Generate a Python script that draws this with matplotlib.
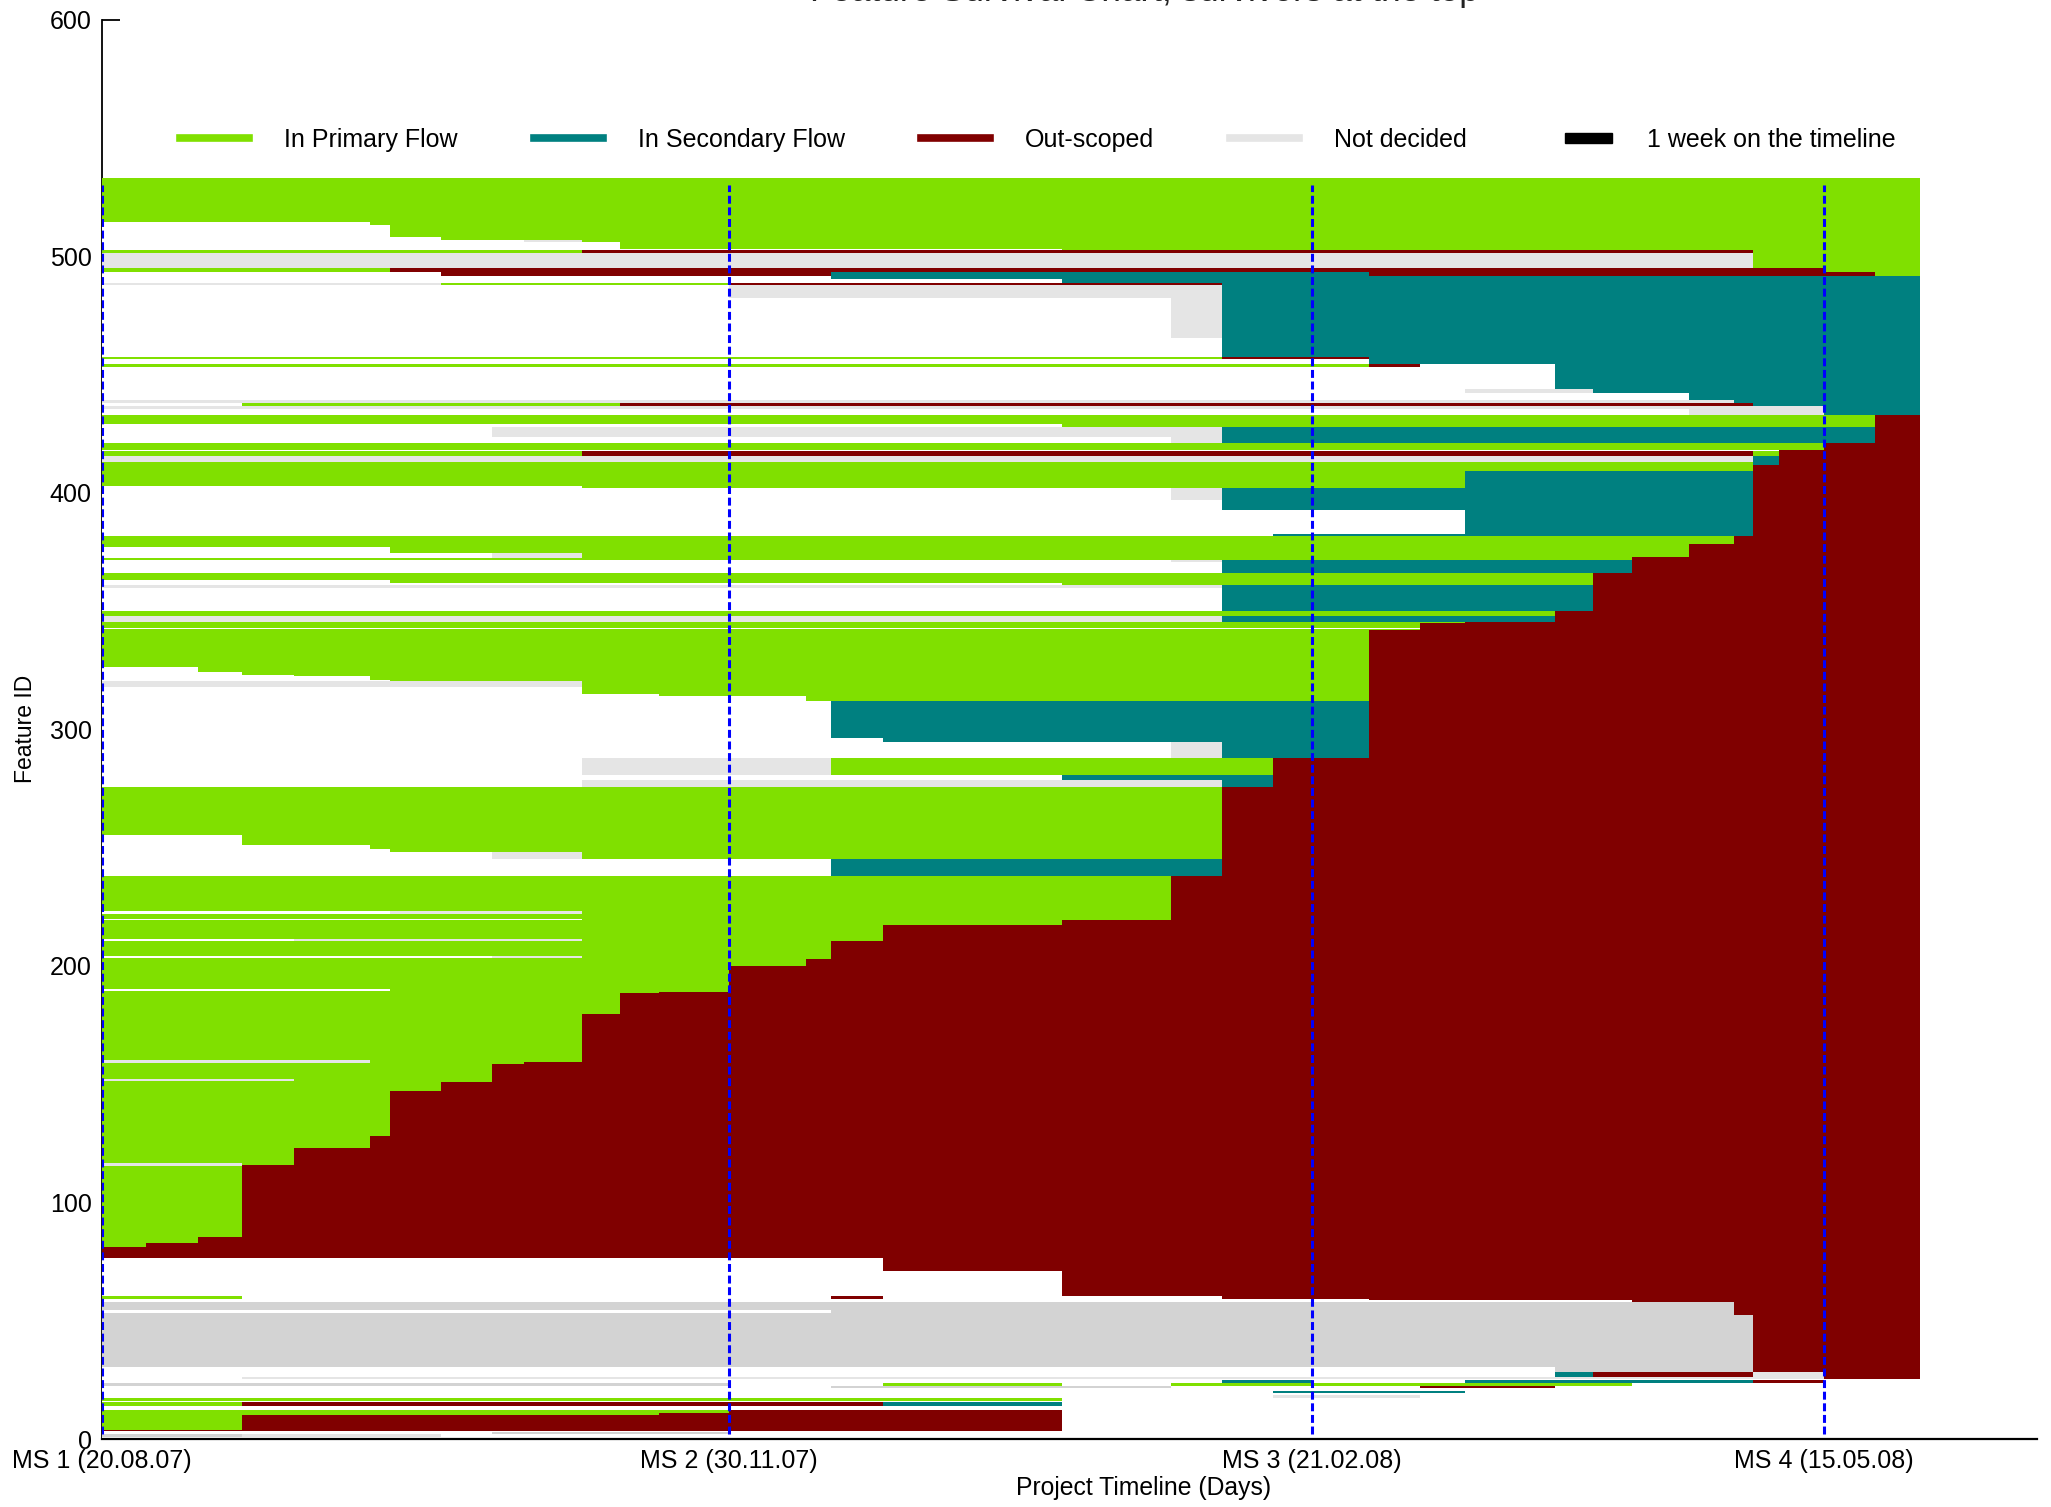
import numpy as np
import matplotlib.pyplot as plt
from matplotlib.colors import ListedColormap
from matplotlib.lines import Line2D
from matplotlib.patches import Patch, Rectangle
from matplotlib.legend_handler import HandlerPatch

plt.rcParams['font.family'] = ['Liberation Sans', 'DejaVu Sans']

# ---------- data ----------
# snapshot days (edges of the timeline columns)
snap_days = [0, 7, 15, 22, 30, 42, 45, 53, 61, 66, 75, 81, 87, 98, 110, 114, 122,
             150, 167, 175, 183, 189, 198, 206, 213, 227, 233, 239, 248, 255, 258,
             262, 269, 277, 284]

ms_days = [0, 98, 189, 269]
ms_labels = ['MS 1 (20.08.07)', 'MS 2 (30.11.07)', 'MS 3 (21.02.08)', 'MS 4 (15.05.08)']

# out-scoped staircase: feature id range per snapshot column
outscoped_top = [80.9, 83.1, 85.4, 115.7, 123.1, 128.2, 147.1, 150.9, 158.4, 159.2,
                 179.4, 188.4, 189.1, 199.7, 202.9, 210.5, 217.3, 219.4, 238.1, 275.7,
                 287.7, 287.7, 342.0, 344.8, 345.5, 350.1, 366.0, 372.7, 378.6, 381.8,
                 411.7, 418.1, 420.9, 433.1]
outscoped_bottom = [76.4] * 16 + [71.0, 60.6, 60.6, 59.0, 59.0, 59.0, 58.8, 58.8, 58.8,
                                  58.8, 58.8, 58.0, 58.0, 52.4, 28.2, 28.2, 25.4, 25.4]

# P primary, S secondary, O out-scoped, N not decided, G not decided (old), W none
state_codes = ['W', 'P', 'S', 'O', 'N', 'G']
state_colors = ['#ffffff', '#80e000', '#008080', '#800000', '#e5e5e5', '#d3d3d3']

# feature bands: (id from, id to, [(start day, state), ...])
bands = [
    (514.4, 533.0, [(0, 'P')]),
    (512.9, 514.4, [(42, 'P')]),
    (508.3, 512.9, [(45, 'P')]),
    (506.8, 508.3, [(53, 'P')]),
    (506.0, 506.8, [(66, 'N'), (75, 'P')]),
    (503.0, 506.0, [(81, 'P')]),
    (502.4, 503.0, [(150, 'P')]),
    (501.2, 502.4, [(0, 'P'), (75, 'O'), (258, 'P')]),
    (495.0, 501.2, [(0, 'N'), (258, 'P')]),
    (493.4, 495.0, [(0, 'P'), (45, 'O'), (269, 'P')]),
    (491.6, 493.4, [(53, 'O'), (114, 'S'), (198, 'O'), (277, 'P')]),
    (490.6, 491.6, [(114, 'S')]),
    (488.5, 490.6, [(150, 'S')]),
    (487.8, 488.5, [(0, 'N'), (53, 'P'), (98, 'O'), (175, 'S')]),
    (482.2, 487.8, [(98, 'N'), (175, 'S')]),
    (465.3, 482.2, [(167, 'N'), (175, 'S')]),
    (457.5, 465.3, [(175, 'S')]),
    (456.5, 457.5, [(0, 'P'), (175, 'O'), (198, 'S')]),
    (454.3, 456.5, [(198, 'S')]),
    (453.3, 454.3, [(0, 'P'), (198, 'O'), (206, 'W'), (227, 'S')]),
    (444.1, 453.3, [(227, 'S')]),
    (442.0, 444.1, [(213, 'N'), (233, 'S')]),
    (439.2, 442.0, [(248, 'S')]),
    (437.8, 439.2, [(0, 'N'), (255, 'S')]),
    (436.4, 437.8, [(22, 'P'), (81, 'O'), (258, 'S')]),
    (435.5, 436.4, [(0, 'N'), (269, 'S')]),
    (432.8, 435.5, [(248, 'N'), (269, 'S')]),
    (429.3, 432.8, [(0, 'P'), (277, 'O')]),
    (427.9, 429.3, [(150, 'P'), (277, 'O')]),
    (423.7, 427.9, [(61, 'N'), (175, 'S'), (277, 'O')]),
    (421.0, 423.7, [(167, 'N'), (175, 'S'), (277, 'O')]),
    (418.3, 421.0, [(0, 'P')]),
    (415.5, 417.4, [(0, 'P'), (75, 'O'), (258, 'P')]),
    (413.1, 415.5, [(0, 'N'), (258, 'S')]),
    (411.7, 413.1, [(0, 'P'), (258, 'S')]),
    (409.0, 411.7, [(0, 'P')]),
    (403.0, 409.0, [(0, 'P'), (213, 'S')]),
    (402.0, 403.0, [(75, 'P'), (213, 'S')]),
    (397.0, 402.0, [(167, 'N'), (175, 'S')]),
    (392.7, 397.0, [(175, 'S')]),
    (382.5, 392.7, [(213, 'S')]),
    (381.8, 382.5, [(183, 'S')]),
    (377.2, 381.8, [(0, 'P')]),
    (374.5, 377.2, [(45, 'P')]),
    (372.6, 374.5, [(61, 'N'), (75, 'P')]),
    (371.6, 372.6, [(0, 'P')]),
    (370.8, 371.6, [(167, 'N'), (175, 'S')]),
    (366.0, 370.8, [(175, 'S')]),
    (363.1, 366.0, [(0, 'P')]),
    (362.0, 363.1, [(45, 'P')]),
    (361.0, 362.0, [(150, 'P')]),
    (359.8, 361.0, [(0, 'N'), (175, 'S')]),
    (350.0, 359.8, [(175, 'S')]),
    (348.0, 350.0, [(0, 'P')]),
    (345.5, 348.0, [(0, 'N'), (175, 'S')]),
    (342.7, 345.5, [(0, 'P')]),
    (326.5, 342.2, [(0, 'P')]),
    (324.3, 326.5, [(15, 'P')]),
    (323.0, 324.3, [(22, 'P')]),
    (322.5, 323.0, [(30, 'P')]),
    (321.0, 322.5, [(42, 'P')]),
    (320.4, 321.0, [(45, 'P')]),
    (318.0, 320.4, [(0, 'N'), (75, 'P')]),
    (315.0, 318.0, [(75, 'P')]),
    (314.0, 315.0, [(87, 'P')]),
    (312.0, 314.0, [(110, 'P')]),
    (296.5, 312.0, [(114, 'S')]),
    (294.5, 296.5, [(122, 'S')]),
    (287.7, 294.5, [(167, 'N'), (175, 'S')]),
    (280.5, 287.7, [(75, 'N'), (114, 'P')]),
    (278.5, 280.5, [(150, 'S')]),
    (275.8, 278.5, [(75, 'N'), (175, 'S')]),
    (255.3, 275.8, [(0, 'P')]),
    (251.0, 255.3, [(22, 'P')]),
    (249.6, 251.0, [(42, 'P')]),
    (248.0, 249.6, [(45, 'P')]),
    (245.0, 248.0, [(61, 'N'), (75, 'P')]),
    (238.1, 245.0, [(114, 'S')]),
    (76.5, 238.1, [(0, 'P')]),
    # thin gaps inside the primary block
    (222.0, 223.0, [(45, 'N'), (75, 'P')]),
    (219.2, 220.0, [(75, 'P')]),
    (210.5, 211.3, [(30, 'N'), (75, 'P')]),
    (203.5, 204.3, [(61, 'N'), (75, 'P')]),
    (189.5, 190.3, [(45, 'P')]),
    (159.0, 160.0, [(0, 'N'), (42, 'P')]),
    (151.2, 152.1, [(0, 'N'), (30, 'P')]),
    (115.6, 116.4, [(0, 'N'), (22, 'P')]),
    # undecided block and early features
    (59.3, 60.4, [(0, 'P'), (22, 'W'), (114, 'O'), (122, 'W')]),
    (54.5, 58.0, [(0, 'G')]),
    (53.3, 54.5, [(114, 'G')]),
    (30.5, 53.3, [(0, 'G')]),
    (28.4, 30.5, [(227, 'G')]),
    (26.3, 28.2, [(227, 'S'), (233, 'O'), (258, 'N')]),
    (25.2, 26.3, [(22, 'N'), (269, 'W')]),
    (23.7, 25.0, [(175, 'S'), (189, 'W'), (213, 'S'), (258, 'O'), (269, 'W')]),
    (22.3, 23.5, [(0, 'G'), (98, 'W'), (122, 'P'), (150, 'W'), (167, 'P'), (239, 'W')]),
    (21.5, 22.3, [(114, 'G'), (167, 'W'), (206, 'O'), (227, 'W')]),
    (19.2, 20.2, [(183, 'S'), (213, 'W')]),
    (17.6, 18.5, [(183, 'N'), (206, 'W')]),
    (15.9, 17.3, [(0, 'P'), (150, 'W')]),
    (13.8, 15.4, [(0, 'P'), (22, 'O'), (122, 'S'), (150, 'W')]),
    (11.0, 12.2, [(0, 'P'), (98, 'O'), (150, 'W')]),
    (10.1, 11.0, [(0, 'P'), (87, 'O'), (150, 'W')]),
    (4.1, 10.1, [(0, 'P'), (22, 'O'), (150, 'W')]),
    (3.3, 4.1, [(0, 'O'), (150, 'W')]),
    (2.0, 3.0, [(61, 'G'), (98, 'W')]),
    (1.0, 2.0, [(0, 'G'), (22, 'N'), (53, 'W')]),
]

legend_labels = ['In Primary Flow', 'In Secondary Flow', 'Out-scoped', 'Not decided',
                 '1 week on the timeline']

# ---------- state grid ----------
step = 0.25
id_edges = np.arange(0, 533.0 + step, step)
centers = id_edges[:-1] + step / 2
col_start = np.array(snap_days[:-1])
grid = np.zeros((len(centers), len(col_start)), dtype=int)

for lo, hi, timeline in bands:
    rows = (centers >= lo) & (centers < hi)
    for j, d in enumerate(col_start):
        st = 'W'
        for start, s in timeline:
            if start <= d + 0.5:
                st = s
        grid[rows, j] = state_codes.index(st)

for j in range(len(col_start)):
    rows = (centers >= outscoped_bottom[j]) & (centers < outscoped_top[j])
    grid[rows, j] = state_codes.index('O')

# ---------- plot ----------
fig = plt.figure(figsize=(20.51, 15.07), dpi=100)
ax = fig.add_axes([0.04949, 0.04512, 0.9437, 0.94187])

ax.pcolormesh(snap_days, id_edges, grid, cmap=ListedColormap(state_colors),
              vmin=-0.5, vmax=len(state_codes) - 0.5, shading='flat',
              antialiased=False, edgecolors='none', zorder=1)

ax.vlines(ms_days, 2, 530, colors='#0000ff', linewidth=2.2,
          linestyles=(0, (2.6, 1.2)), zorder=3)

ax.set_xlim(0, 302.3)
ax.set_ylim(0, 600)
ax.set_axisbelow(True)
for side in ['top', 'right']:
    ax.spines[side].set_visible(False)
ax.spines['left'].set_zorder(0.5)
ax.spines['left'].set_linewidth(1.3)
ax.spines['bottom'].set_linewidth(1.6)
ax.spines['bottom'].set_zorder(4)

ax.set_yticks(range(0, 601, 100))
ax.tick_params(axis='y', direction='in', length=13, width=1.3, labelsize=18, pad=7)
ax.set_xticks(ms_days, ms_labels)
ax.tick_params(axis='x', length=0, labelsize=18, pad=7)

fig.text(0.5578, 1 - 1.5 / 1507, 'Feature Survival Chart; survivors at the top',
         ha='center', va='baseline', fontsize=25.3, color='#222222')
fig.text(0.5578, 0.0123, 'Project Timeline (Days)', ha='center', va='center', fontsize=17.8)
fig.text(26 / 2051, 0.5165, 'Feature ID', rotation=90, ha='center', va='center', fontsize=16.5)


def short_box(legend, orig_handle, xdescent, ydescent, width, height, fontsize):
    w = width * 0.68
    h = 7.5
    return Rectangle((-xdescent + width - w, -ydescent + (height - h) / 2), w, h)


handles = [Line2D([], [], color=c, linewidth=5.5) for c in state_colors[1:5]]
week = Patch(facecolor='black', edgecolor='black')
handles.append(week)
fig.legend(handles, legend_labels, loc='center left', bbox_to_anchor=(0.0768, 0.9072),
           ncol=5, frameon=False, fontsize=18, handlelength=2.76, handletextpad=1.4,
           columnspacing=3.05, handler_map={week: HandlerPatch(patch_func=short_box)})

fig.savefig('out.png', dpi=100)
